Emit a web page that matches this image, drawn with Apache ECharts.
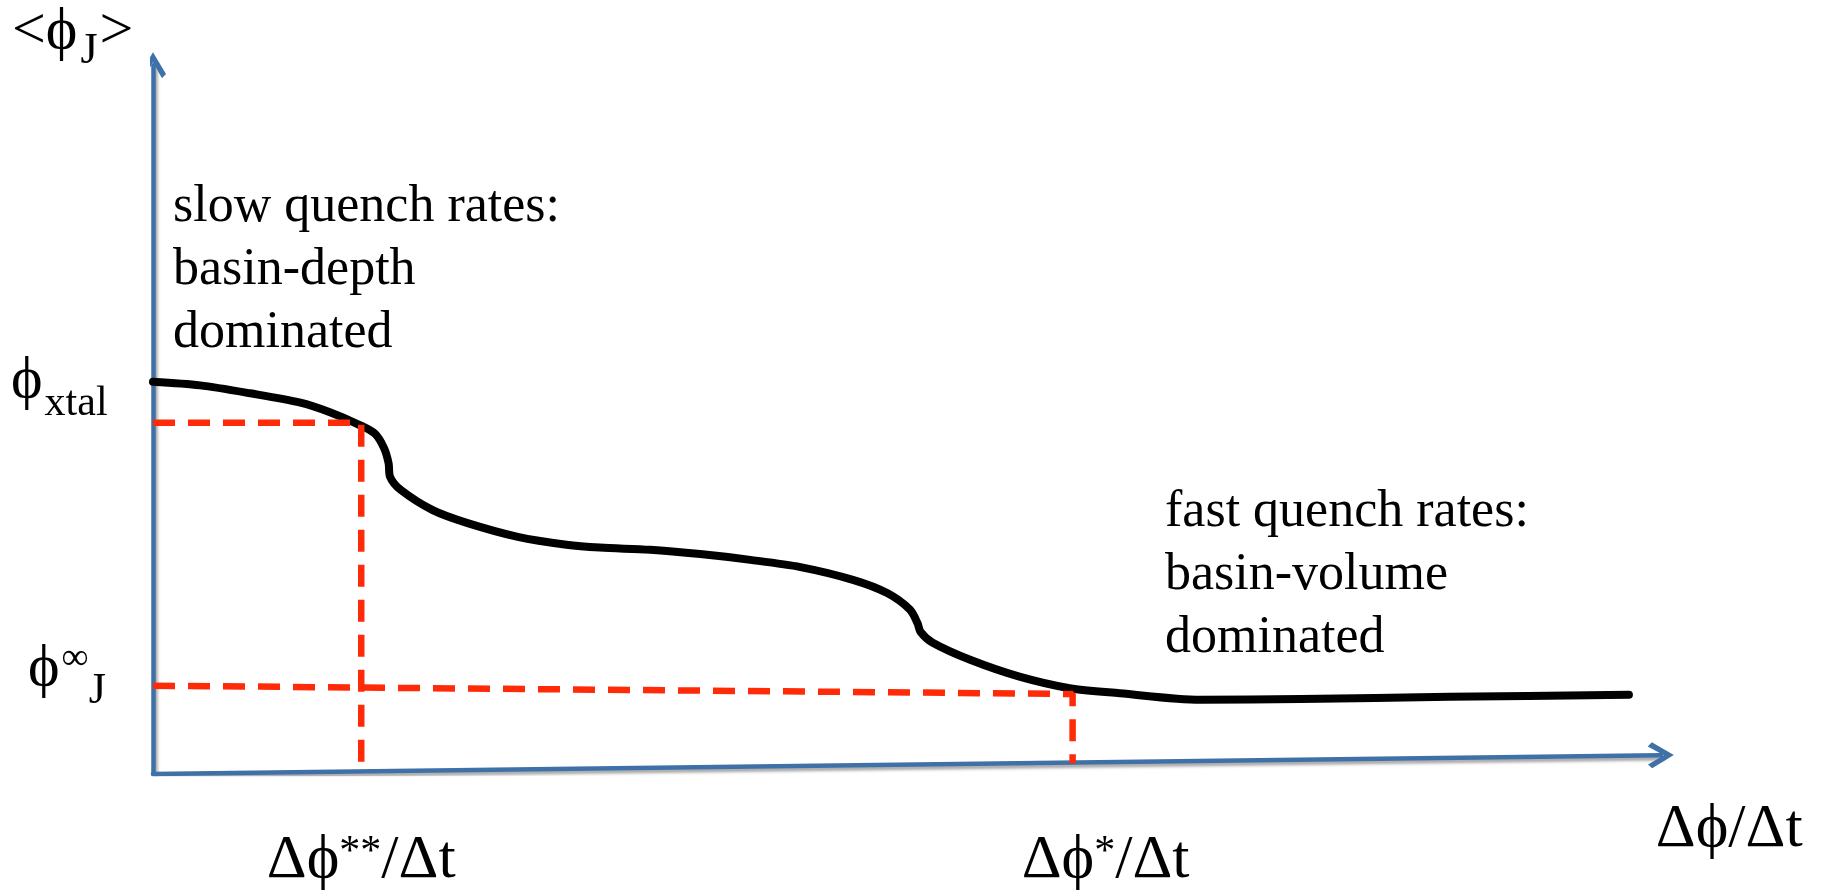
<!DOCTYPE html>
<html>
<head>
<meta charset="utf-8">
<script src="https://cdn.jsdelivr.net/npm/echarts@6/dist/echarts.min.js"></script>
<style>
  html, body { margin: 0; padding: 0; background: #ffffff; }
  #chart { width: 1838px; height: 896px; }
</style>
</head>
<body>
<div id="chart"></div>
<script>
// Quench rate Δϕ/Δt and mean jamming fraction <ϕJ>, both in arbitrary units (0–100)
const quenchRate = [0, 3.1, 6.4, 9.7, 11.6, 13.6, 14.6, 15.2, 15.5, 15.6,
  16.3, 18.4, 20.7, 24.0, 27.2, 29.4, 32.7, 36.0, 39.3, 42.6,
  46.1, 48.3, 49.8, 50.3, 50.5, 51.3, 53.8, 57.0, 60.3, 63.6,
  68.9, 75.5, 85.3, 97.1];
const jammingFraction = [54.4, 53.9, 52.8, 51.5, 50.2, 48.4, 47.2, 45.2, 43.1, 41.2,
  39.4, 36.6, 34.8, 32.9, 31.8, 31.4, 31.1, 30.5, 29.7, 28.7,
  26.9, 25.1, 22.8, 20.9, 19.7, 18.2, 15.8, 13.5, 11.9, 11.2,
  10.3, 10.4, 10.7, 11.0];

// Dashed guides to the two characteristic quench rates
const slowGuideX = [0, 13.7, 13.7];
const slowGuideY = [48.7, 48.7, 1.0];
const fastGuideX = [0, 60.5, 60.5];
const fastGuideY = [12.25, 11.1, 1.5];

// Axis frame (the horizontal axis rises slightly towards its arrow)
const yAxisEnd = [0, 98.3];
const xAxisEnd = [99.2, 2.6];

// Marked values on the axes
const rateTicks = [13.7, 60.5];
const phiXtal = 54.4;
const phiJInf = 12.25;

const SERIF = '"Liberation Serif", "DejaVu Serif", "Times New Roman", serif';
const PHI = 'ϕ';
const AXIS_BLUE = '#3f71a9';
const GUIDE_RED = '#ff2a08';

const chart = echarts.init(document.getElementById('chart'), null, { renderer: 'canvas' });

const toPairs = (xs, ys) => xs.map((x, i) => [x, ys[i]]);

// open chevron arrow head, pointing up
const chevron = 'path://M11,0 L22,21 L18.6,25 L11,9.5 L3.4,25 L0,21 Z';

chart.setOption({
  animation: false,
  backgroundColor: '#ffffff',
  grid: { left: 153, top: 53, width: 1520, height: 721, containLabel: false },
  xAxis: { type: 'value', min: 0, max: 100, show: false },
  yAxis: { type: 'value', min: 0, max: 100, show: false },
  series: [
    {
      name: 'axes',
      type: 'lines',
      coordinateSystem: 'cartesian2d',
      silent: true,
      z: 2,
      symbol: ['none', chevron],
      symbolSize: [0, 26],
      lineStyle: {
        color: AXIS_BLUE, width: 4.5, opacity: 1, cap: 'round', join: 'round',
        shadowColor: 'rgba(0,0,0,0.35)', shadowBlur: 3, shadowOffsetX: 2, shadowOffsetY: 3
      },
      data: [
        { coords: [[0, 0], yAxisEnd] },
        { coords: [[0, 0], xAxisEnd] }
      ]
    },
    {
      name: '<ϕJ>',
      type: 'line',
      z: 3,
      silent: true,
      showSymbol: false,
      smooth: 0.3,
      lineStyle: { color: '#000000', width: 8, cap: 'round', join: 'round' },
      data: toPairs(quenchRate, jammingFraction)
    },
    {
      name: 'slow guide',
      type: 'line',
      z: 4,
      silent: true,
      showSymbol: false,
      lineStyle: { color: GUIDE_RED, width: 6.5, type: [22, 13] },
      data: toPairs(slowGuideX, slowGuideY)
    },
    {
      name: 'fast guide',
      type: 'line',
      z: 4,
      silent: true,
      showSymbol: false,
      lineStyle: { color: GUIDE_RED, width: 6.5, type: [22, 13] },
      data: toPairs(fastGuideX, fastGuideY)
    }
  ]
});

// ---- text labels with sub/superscripts, laid out piece by piece ----
const measureCtx = document.createElement('canvas').getContext('2d');
function textWidth(t, size) {
  measureCtx.font = size + 'px ' + SERIF;
  return measureCtx.measureText(t).width;
}
const SHADOW = { shadowColor: 'rgba(0,0,0,0.28)', shadowBlur: 2, shadowOffsetX: 2, shadowOffsetY: 2 };

// baseline-anchored run of text pieces; middle of the em box sits 0.3375em above the baseline
function run(x, baseline, pieces, align) {
  const widths = pieces.map(p => textWidth(p.t, p.s) + (p.dx || 0));
  const total = widths.reduce((a, b) => a + b, 0);
  let cx = align === 'center' ? x - total / 2 : x;
  return pieces.map((p, i) => {
    const el = {
      type: 'text',
      silent: true,
      z: 10,
      x: cx + (p.dx || 0),
      y: baseline + (p.dy || 0) - 0.3375 * p.s,
      style: Object.assign({
        text: p.t,
        font: p.s + 'px ' + SERIF,
        fill: '#000000',
        align: 'left', textAlign: 'left',
        verticalAlign: 'middle', textVerticalAlign: 'middle'
      }, SHADOW)
    };
    cx += widths[i];
    return el;
  });
}

function block(x, firstBaseline, lines, size, lineGap) {
  return lines.flatMap((t, i) => run(x, firstBaseline + i * lineGap, [{ t, s: size }], 'left'));
}

const px = (x, y) => chart.convertToPixel({ gridIndex: 0 }, [x, y]);

const yTop = px(yAxisEnd[0], yAxisEnd[1]);
const xEnd = px(xAxisEnd[0], xAxisEnd[1]);
const xtalPt = px(0, phiXtal);
const jInfPt = px(0, phiJInf);
const tick0 = px(rateTicks[0], 0);
const tick1 = px(rateTicks[1], 0);

const graphics = [].concat(
  // vertical axis name <ϕJ>
  run(yTop[0] - 141, yTop[1] - 13, [
    { t: '<', s: 60 },
    { t: PHI, s: 60 },
    { t: 'J', s: 44, dy: 14, dx: 3 },
    { t: '>', s: 60, dx: 2 }
  ], 'left'),
  // ϕxtal
  run(xtalPt[0] - 142, xtalPt[1] + 20, [
    { t: PHI, s: 60 },
    { t: 'xtal', s: 42, dy: 16, dx: 2 }
  ], 'left'),
  // ϕ∞J
  run(jInfPt[0] - 125, jInfPt[1] + 4, [
    { t: PHI, s: 60 },
    { t: '∞', s: 38, dy: -18, dx: 2 },
    { t: 'J', s: 44, dy: 17, dx: 0 }
  ], 'left'),
  // marked quench rates below the axis
  run(tick0[0], 882, [
    { t: 'Δ' + PHI, s: 62 },
    { t: '**', s: 42, dy: -15 },
    { t: '/Δt', s: 62 }
  ], 'center'),
  run(tick1[0] + 33, 882, [
    { t: 'Δ' + PHI, s: 62 },
    { t: '*', s: 42, dy: -15 },
    { t: '/Δt', s: 62 }
  ], 'center'),
  // horizontal axis name
  run(xEnd[0] - 5, xEnd[1] + 95, [{ t: 'Δ' + PHI + '/Δt', s: 62 }], 'left'),
  // regime annotations
  block(173, 225, ['slow quench rates:', 'basin-depth', 'dominated'], 52, 63),
  block(1165, 530, ['fast quench rates:', 'basin-volume', 'dominated'], 52, 63)
);

chart.setOption({ graphic: graphics });
</script>
</body>
</html>
